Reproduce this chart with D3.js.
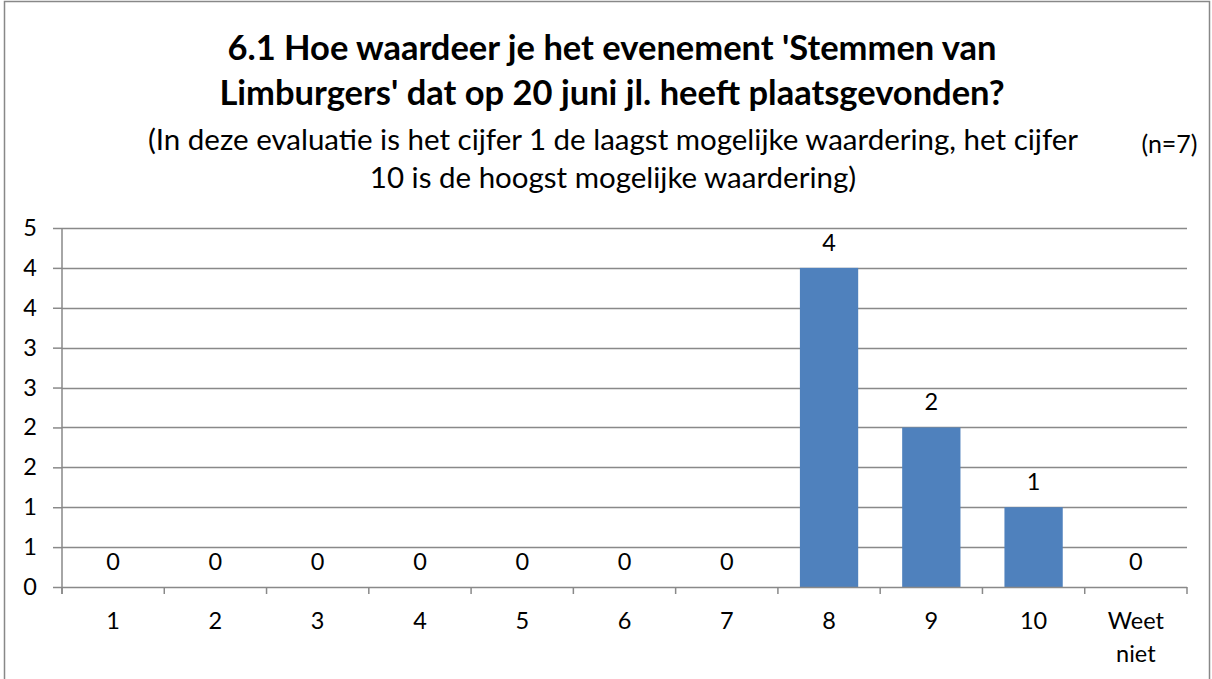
<!DOCTYPE html>
<html>
<head>
<meta charset="utf-8">
<script src="https://cdn.jsdelivr.net/npm/d3@7"></script>
<style>
  html, body { margin: 0; padding: 0; background: #fff; }
  svg { display: block; }
  text { font-family: Lato, 'Open Sans', sans-serif; fill: #000; }
</style>
</head>
<body>
<div id="chart"></div>
<script>
// Data
const categories = ['1', '2', '3', '4', '5', '6', '7', '8', '9', '10', 'Weet niet'];
const counts = [0, 0, 0, 0, 0, 0, 0, 4, 2, 1, 0];
const yTickValues = [0, 0.5, 1, 1.5, 2, 2.5, 3, 3.5, 4, 4.5];
const yTickLabels = ['0', '1', '1', '2', '2', '3', '3', '4', '4', '5'];
const titleLines = ["6.1 Hoe waardeer je het evenement 'Stemmen van", "Limburgers' dat op 20 juni jl. heeft plaatsgevonden?"];
const subtitleLines = ['(In deze evaluatie is het cijfer 1 de laagst mogelijke waardering, het cijfer', '10 is de hoogst mogelijke waardering)'];
const nLabel = '(n=7)';

const width = 1212;
const height = 679;
const plot = { left: 62, right: 1187, top: 228, bottom: 587 };
const gridColor = '#898989';
const labelSize = '23.5px';

const svg = d3.select('#chart')
  .append('svg')
  .attr('width', width)
  .attr('height', height);

// Outer frame
svg.append('rect')
  .attr('x', 4.5).attr('y', 1.5)
  .attr('width', 1205).attr('height', 690)
  .attr('fill', 'none')
  .attr('stroke', '#888')
  .attr('stroke-width', 1.5);

// Titles
svg.append('g')
  .selectAll('text')
  .data(titleLines)
  .join('text')
  .attr('x', 612)
  .attr('y', (d, i) => 60 + i * 45)
  .attr('text-anchor', 'middle')
  .attr('font-size', '34.5px')
  .attr('font-weight', '700')
  .text(d => d);

svg.append('g')
  .selectAll('text')
  .data(subtitleLines)
  .join('text')
  .attr('x', 613)
  .attr('y', (d, i) => 150 + i * 38)
  .attr('text-anchor', 'middle')
  .attr('font-size', '29.5px')
  .text(d => d);

svg.append('text')
  .attr('x', 1169.5)
  .attr('y', 153)
  .attr('text-anchor', 'middle')
  .attr('font-size', '25px')
  .text(nLabel);

// Scales
const x = d3.scaleBand()
  .domain(categories)
  .range([plot.left, plot.right])
  .paddingInner(0.43)
  .paddingOuter(0.215);

const xSlot = d3.scaleBand()
  .domain(categories)
  .range([plot.left, plot.right]);

const y = d3.scaleLinear()
  .domain([0, 4.5])
  .range([plot.bottom, plot.top]);

// Gridlines
svg.append('g')
  .selectAll('line')
  .data(yTickValues.filter(v => v > 0))
  .join('line')
  .attr('x1', plot.left)
  .attr('x2', plot.right)
  .attr('y1', d => Math.round(y(d)) + 0.5)
  .attr('y2', d => Math.round(y(d)) + 0.5)
  .attr('stroke', gridColor)
  .attr('stroke-width', 1.5);

// Y axis
const yAxis = svg.append('g')
  .attr('transform', `translate(${plot.left},0)`)
  .call(d3.axisLeft(y)
    .tickValues(yTickValues)
    .tickSize(9)
    .tickPadding(16)
    .tickFormat((d, i) => yTickLabels[i]));
yAxis.select('.domain').remove();
yAxis.selectAll('.tick line').attr('stroke', gridColor).attr('stroke-width', 1.5);
yAxis.selectAll('.tick text').attr('font-size', labelSize).attr('font-family', 'Lato, sans-serif').attr('fill', '#000');
yAxis.append('line')
  .attr('x1', 0).attr('x2', 0)
  .attr('y1', plot.top).attr('y2', plot.bottom + 7)
  .attr('stroke', gridColor)
  .attr('stroke-width', 1.5);

// Bars
svg.append('g')
  .selectAll('rect')
  .data(counts)
  .join('rect')
  .attr('x', (d, i) => x(categories[i]))
  .attr('width', x.bandwidth())
  .attr('y', d => y(d))
  .attr('height', d => y(0) - y(d))
  .attr('fill', '#4F81BD');

// X axis line and ticks at category boundaries
const boundaries = categories.map(c => xSlot(c)).concat([plot.right]);
svg.append('line')
  .attr('x1', plot.left).attr('x2', plot.right)
  .attr('y1', plot.bottom + 0.5).attr('y2', plot.bottom + 0.5)
  .attr('stroke', gridColor)
  .attr('stroke-width', 1.5);
svg.append('g')
  .selectAll('line')
  .data(boundaries)
  .join('line')
  .attr('x1', d => d).attr('x2', d => d)
  .attr('y1', plot.bottom).attr('y2', plot.bottom + 7)
  .attr('stroke', gridColor)
  .attr('stroke-width', 1.5);

// Category labels (wrap on spaces)
const catLabels = svg.append('g')
  .selectAll('text')
  .data(categories)
  .join('text')
  .attr('x', d => x(d) + x.bandwidth() / 2)
  .attr('y', 629)
  .attr('text-anchor', 'middle')
  .attr('font-size', labelSize);
catLabels.each(function (d) {
  const words = d.split(' ');
  d3.select(this).selectAll('tspan')
    .data(words)
    .join('tspan')
    .attr('x', x(d) + x.bandwidth() / 2)
    .attr('dy', (w, i) => i === 0 ? 0 : 33)
    .text(w => w);
});

// Data labels
svg.append('g')
  .selectAll('text')
  .data(counts)
  .join('text')
  .attr('x', (d, i) => x(categories[i]) + x.bandwidth() / 2)
  .attr('y', d => y(d) - 17)
  .attr('text-anchor', 'middle')
  .attr('font-size', labelSize)
  .text(d => d);
</script>
</body>
</html>
